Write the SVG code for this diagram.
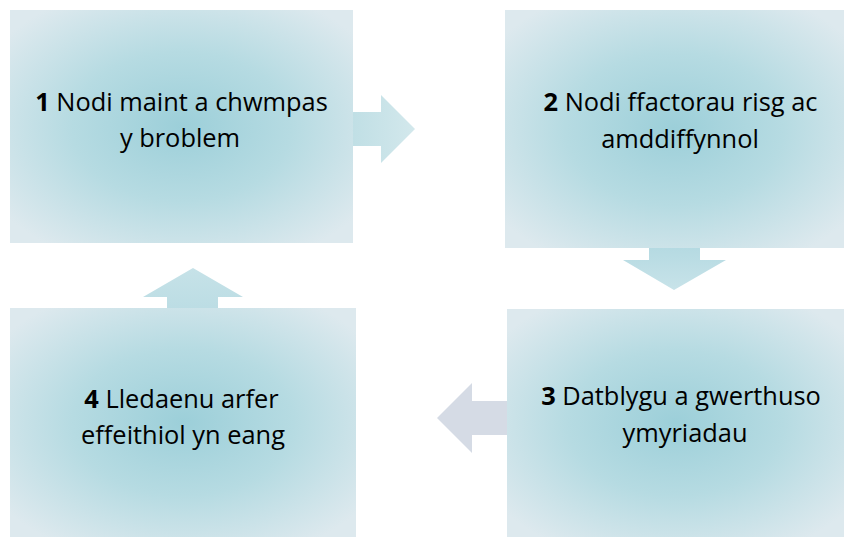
<svg xmlns="http://www.w3.org/2000/svg" width="844" height="537" viewBox="0 0 844 537">
<defs>
<radialGradient id="g1" cx="0.5" cy="0.5" r="0.64">
<stop offset="0" stop-color="#9ccfd9"/>
<stop offset="0.5" stop-color="#b6dbe2"/>
<stop offset="1" stop-color="#dde9ee"/>
</radialGradient>
<linearGradient id="ar" x1="0" y1="0" x2="1" y2="0">
<stop offset="0" stop-color="#c0dfe5"/>
<stop offset="1" stop-color="#d3e8ec"/>
</linearGradient>
<linearGradient id="ad" x1="0" y1="0" x2="0" y2="1">
<stop offset="0" stop-color="#b5dae2"/>
<stop offset="1" stop-color="#c8e3e9"/>
</linearGradient>
<linearGradient id="au" x1="0" y1="1" x2="0" y2="0">
<stop offset="0" stop-color="#bcdde4"/>
<stop offset="1" stop-color="#c6e2e8"/>
</linearGradient>
</defs>
<style>
.box{fill:url(#g1)}
.t{font-family:"Open Sans","Liberation Sans",sans-serif;font-size:25.4px;fill:#000;text-anchor:middle}
.b{font-weight:bold}
</style>
<g id="connectors">
<path d="M353,112 H381 V95 L415,129 L381,163 V146 H353 Z" fill="url(#ar)"/>
<path d="M649,248 H700 V260 H726 L674,290 L623,260 H649 Z" fill="url(#ad)"/>
<path d="M507,401 H472 V383 L437,418 L472,453 V435 H507 Z" fill="#d5dbe5"/>
<path d="M167,308 V297 H143 L193,268 L243,297 H218 V308 Z" fill="url(#au)"/>
</g>
<g id="node1">
<rect class="box" x="10" y="10" width="343" height="233"/>
<text class="t" x="181.5" y="111"><tspan class="b">1</tspan> Nodi maint a chwmpas</text>
<text class="t" x="180" y="147">y broblem</text>
</g>
<g id="node2">
<rect class="box" x="505" y="10" width="339" height="238"/>
<text class="t" x="680.5" y="111"><tspan class="b">2</tspan> Nodi ffactorau risg ac</text>
<text class="t" x="680" y="148">amddiffynnol</text>
</g>
<g id="node3">
<rect class="box" x="507" y="309" width="337" height="228"/>
<text class="t" x="681" y="405"><tspan class="b">3</tspan> Datblygu a gwerthuso</text>
<text class="t" x="685" y="442">ymyriadau</text>
</g>
<g id="node4">
<rect class="box" x="10" y="308" width="346" height="229"/>
<text class="t" x="181.5" y="408"><tspan class="b">4</tspan> Lledaenu arfer</text>
<text class="t" x="183" y="444">effeithiol yn eang</text>
</g>
</svg>
